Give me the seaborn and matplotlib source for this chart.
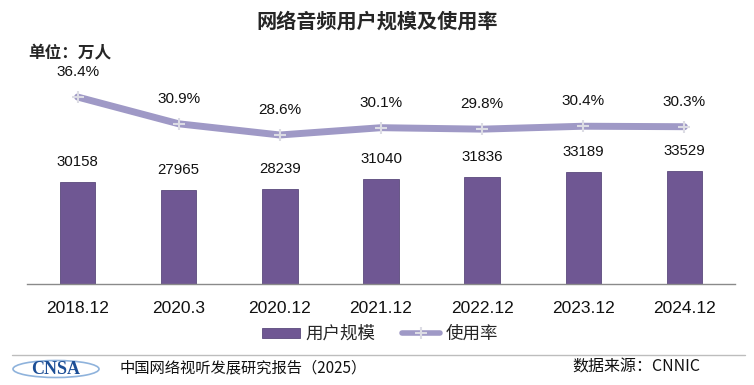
import numpy as np
import pandas as pd
import seaborn as sns
import matplotlib.pyplot as plt
from matplotlib.patches import Patch, Ellipse
from matplotlib.lines import Line2D

# Data
periods = ['2018.12', '2020.3', '2020.12', '2021.12', '2022.12', '2023.12', '2024.12']
users = [30158, 27965, 28239, 31040, 31836, 33189, 33529]
rates = [36.4, 30.9, 28.6, 30.1, 29.8, 30.4, 30.3]

bar_color = '#6f5793'
line_color = '#9f99c6'

sns.set_theme(style='white')
plt.rcParams['font.family'] = ['Liberation Sans', 'Noto Sans CJK SC', 'DejaVu Sans']

df = pd.DataFrame({'period': periods, 'users': users, 'rate': rates})

fig = plt.figure(figsize=(7.54, 3.85), dpi=100)
W, H = 754, 385
ax = fig.add_axes([27 / W, 1 - 284 / H, (735 - 27) / W, (284 - 60) / H])

sns.barplot(data=df, x='period', y='users', ax=ax, color=bar_color, width=0.35,
            edgecolor='#5b4a7c', linewidth=0.6, saturation=1)
ax.set_xlim(-0.5, len(periods) - 0.5)
ax.set_ylim(0, 66500)
ax.set_xlabel('')
ax.set_ylabel('')
ax.set_yticks([])
for s in ['top', 'right', 'left']:
    ax.spines[s].set_visible(False)
ax.spines['bottom'].set_color('#8a8a8a')
ax.spines['bottom'].set_linewidth(1.0)
ax.tick_params(axis='x', which='major', length=0, labelsize=12.5, pad=12, colors='#111111')
ax.set_xticks(np.arange(-0.5, len(periods)), minor=True)
ax.tick_params(axis='x', which='minor', direction='in', length=5, color='#8a8a8a', width=1)

for i, v in enumerate(users):
    ax.annotate(str(v), (i, v), xytext=(0, 14.5), textcoords='offset points',
                ha='center', va='center', fontsize=10.8, color='#111111')

ax2 = ax.twinx()
sns.lineplot(x=np.arange(len(periods)), y=rates, ax=ax2, color=line_color, linewidth=5,
             marker='+', markersize=8, markeredgecolor='#dcdce4', markeredgewidth=1.5)
ax2.set_ylim(-2.0, 44.0)
ax2.set_yticks([])
ax2.set_ylabel('')
for s in ['top', 'right', 'left', 'bottom']:
    ax2.spines[s].set_visible(False)

for i, r in enumerate(rates):
    ax2.annotate(f'{r}%', (i, r), xytext=(0, 18), textcoords='offset points',
                 ha='center', va='center', fontsize=11, color='#111111')

# Titles
fig.text(0.5, 1 - 21 / H, '网络音频用户规模及使用率', ha='center', va='center',
         fontsize=14.5, fontweight='bold', family=['Noto Sans CJK SC'])
fig.text(28 / W, 1 - 53 / H, '单位：万人', ha='left', va='center',
         fontsize=12, fontweight='bold', family=['Noto Sans CJK SC'])

# Legend
handles = [Patch(facecolor=bar_color, edgecolor='#5b4a7c', linewidth=0.6),
           Line2D([0], [0], color=line_color, linewidth=4, marker='+', markersize=8,
                  markeredgecolor='#dcdce4', markeredgewidth=1.5)]
fig.legend(handles, ['用户规模', '使用率'], loc='center', bbox_to_anchor=(380 / W, 1 - 334 / H),
           ncol=2, frameon=False, handlelength=2.2, handleheight=0.55,
           handletextpad=0.3, columnspacing=1.5, borderpad=0,
           prop={'family': ['Noto Sans CJK SC'], 'size': 12.6})

# Footer
fig.add_artist(Line2D([12 / W, 745 / W], [1 - 355 / H, 1 - 355 / H], color='#bdbdbd', linewidth=1))
fig.add_artist(Ellipse((56 / W, 1 - 369 / H), 86 / W, 17 / H, facecolor='none',
                       edgecolor='#8fb3dc', linewidth=1.2))
fig.text(56 / W, 1 - 369 / H, 'CNSA', ha='center', va='center', fontsize=13,
         fontweight='bold', family='Liberation Serif', color='#1d4f96')
fig.text(120 / W, 1 - 368 / H, '中国网络视听发展研究报告（2025）', ha='left', va='center',
         fontsize=11, family=['Noto Sans CJK SC'], color='#111111')
fig.text(572 / W, 1 - 367 / H, '数据来源：CNNIC', ha='left', va='center',
         fontsize=11.5, family=['Noto Sans CJK SC'], color='#111111')

fig.savefig('out.png', dpi=100)
